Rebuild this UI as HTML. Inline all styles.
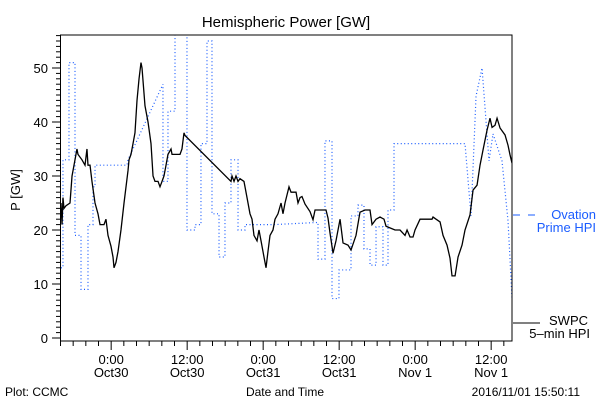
<!DOCTYPE html>
<html><head><meta charset="utf-8"><style>
body{margin:0;background:#fff;width:600px;height:400px;overflow:hidden}
svg{font-family:"Liberation Sans",sans-serif}
</style></head><body>
<svg id="c" width="600" height="400" xmlns="http://www.w3.org/2000/svg">
<defs><clipPath id="clip"><rect x="60.5" y="35" width="451.5" height="306"/></clipPath></defs>
<text x="286" y="27" font-size="15" text-anchor="middle">Hemispheric Power [GW]</text>
<text transform="translate(20,190) rotate(-90)" font-size="13" text-anchor="middle">P [GW]</text>
<text x="5" y="396" font-size="12">Plot: CCMC</text>
<text x="285" y="396" font-size="12" text-anchor="middle">Date and Time</text>
<text x="580" y="396" font-size="12" text-anchor="end">2016/11/01 15:50:11</text>
<g id="axes"></g>
<g id="series" clip-path="url(#clip)"></g>
<rect x="60.5" y="35" width="451.5" height="306" fill="none" stroke="#000" stroke-width="1"/>
<g>
<line x1="513" y1="215" x2="540" y2="215" stroke="#1a5cff" stroke-width="1" stroke-dasharray="7,8"/>
<text x="596" y="219" font-size="13" fill="#1a5cff" text-anchor="end">Ovation</text>
<text x="596" y="232" font-size="13" fill="#1a5cff" text-anchor="end">Prime HPI</text>
</g>
<g>
<line x1="513" y1="323" x2="540" y2="323" stroke="#000" stroke-width="1"/>
<text x="588" y="325" font-size="13" text-anchor="end">SWPC</text>
<text x="590" y="338" font-size="13" text-anchor="end">5–min HPI</text>
</g>
</svg>
<script>
// hours since 16:00 Oct29
const tickHours=[8,20,32,44,56,68];
const tickTimes=["0:00","12:00","0:00","12:00","0:00","12:00"];
const tickDates=["Oct30","Oct30","Oct31","Oct31","Nov 1","Nov 1"];
const yTicks=[0,10,20,30,40,50];
const swpcT=[0.08,0.24,0.39,0.55,0.87,1.5,1.82,2.29,2.6,2.76,3.39,3.87,4.18,4.34,4.66,4.97,5.45,5.92,6.24,6.87,7.18,7.5,7.97,8.29,8.45,8.76,9.08,9.55,10.03,10.66,10.82,11.13,11.45,11.76,12.08,12.4,12.71,12.87,13.34,13.66,13.82,14.29,14.61,14.92,15.4,15.71,16.03,16.34,16.66,16.97,17.45,17.61,18.87,19.18,19.5,19.66,26.92,27.08,27.4,27.71,28.03,28.34,28.97,29.13,29.45,29.92,30.24,30.55,31.03,31.34,31.66,32.13,32.45,32.76,33.08,33.55,33.87,34.34,34.82,35.13,35.45,36.08,36.4,37.19,37.5,37.82,38.13,38.61,39.4,39.87,40.19,41.92,42.24,42.56,43.03,43.5,44.14,44.61,45.4,45.87,46.66,47.29,48.08,48.87,49.19,49.82,50.45,51.08,51.4,52.82,53.61,54.4,54.72,55.19,55.66,55.98,56.77,58.66,58.82,59.3,59.93,60.4,61.03,61.5,61.82,62.3,62.77,63.4,63.87,64.66,65.14,65.77,66.24,66.71,67.35,67.82,68.14,68.61,68.93,69.4,70.19,70.66,70.98,71.29];
const swpcV=[25,21,26,24,24.5,25,30,33,35,34,33,32,35,32,32,29,25,23,21,21,22,19,17,15,13,14,16,20,25,31,33,34,36,38,44,48,51,50,43,41,40,36,30,29,29,28,29,30,32,34,35,34,34,35,38,37.5,29,30,29,30,29,29.5,29,28,26,23,22,19,18,20,18,15,13,16,19,20,22,23,25,23,25,28,27,27,25,26,26.2,24.8,23.4,21.9,23.7,23.7,22.2,19.4,15.7,18,22,17.6,17.2,16.3,19,23.3,23.7,23.7,21,22,22.4,22,20.7,20,20,19,20,18.7,18.7,20,22,22,22.4,22,21.5,19,17.2,14.8,11.5,11.5,15,17.2,20,22.8,27.4,28.3,32,34.8,38.5,40.7,39,39.4,40.7,38.9,37.6,35.7,33.9,32.4];
const ovT=[0.08,0.39,0.39,1.34,1.34,2.29,2.29,3.24,3.24,4.34,4.34,5.13,5.13,5.45,5.45,10.5,10.66,16.18,16.18,16.97,16.97,18.08,18.08,19.97,19.97,21.24,21.24,22.18,22.18,23.13,23.13,23.92,23.92,25.03,25.03,25.97,25.97,26.92,26.92,28.03,28.03,29.13,29.13,33.71,40.66,40.66,41.76,41.76,42.87,42.87,43.97,43.97,45.87,45.87,46.97,46.97,47.92,47.92,48.87,48.87,49.82,49.82,50.92,50.92,51.71,51.71,52.66,52.66,58.34,63.87,64.82,64.82,65.61,65.61,66.56,66.56,67.66,67.66,68.29,68.29,69.71,69.71,70.66,70.66,71.29];
const ovV=[13,13,33,33,51,51,19,19,9,9,21,21,28,28,32,32,33,47,29,29,42,42,57,57,20,20,21,21,36,36,55,55,23,23,15,15,25,25,33,33,20,20,21,21,21.4,14.6,14.6,36.5,36.5,7.3,7.3,12.6,12.6,22.6,22.6,24.6,24.6,16.5,16.5,13.5,13.5,20.6,20.6,13.5,13.5,23.7,23.7,36,36,36,22.6,22.6,44.8,44.8,50,50,32.8,32.8,37.8,37.8,32.8,32.8,21.7,21.7,7.4,7.4];
const X0=60.5,PXH=6.3333,Y0=338,PXV=5.4;
const xs=t=>X0+t*PXH, ys=v=>Y0-v*PXV;
const NS="http://www.w3.org/2000/svg";
const axes=document.getElementById('axes'), ser=document.getElementById('series');
function mk(tag,attrs,parent){const e=document.createElementNS(NS,tag);for(const k in attrs)e.setAttribute(k,attrs[k]);parent.appendChild(e);return e;}
for(let h=0;h<=70;h+=2){
  const major=tickHours.includes(h);
  const l=mk('line',{x1:xs(h),x2:xs(h),y1:341,y2:major?350:346,stroke:'#000'},axes);
  
  
}
tickHours.forEach((h,i)=>{
  const a=mk('text',{x:xs(h),y:364,'font-size':13,'text-anchor':'middle'},axes);a.textContent=tickTimes[i];
  
  
  const b=mk('text',{x:xs(h),y:377,'font-size':13,'text-anchor':'middle'},axes);b.textContent=tickDates[i];
  
  
});
for(let v=0;v<=56;v++){
  const major=v%10===0;
  const l=mk('line',{x1:major?52:56,x2:60.5,y1:ys(v),y2:ys(v),stroke:'#000'},axes);
  
  
}
yTicks.forEach(v=>{
  const t=mk('text',{x:48,y:ys(v)+5,'font-size':13,'text-anchor':'end'},axes);t.textContent=v;
  
  
});
const op=mk('polyline',{points:ovT.map((t,i)=>xs(t)+','+ys(ovV[i])).join(' '),fill:'none',stroke:'#1a5cff','stroke-width':1.2,'stroke-dasharray':'1,2.5'},ser);


const sp=mk('polyline',{points:swpcT.map((t,i)=>xs(t)+','+ys(swpcV[i])).join(' '),fill:'none',stroke:'#000','stroke-width':1.3},ser);


</script>
</body></html>
